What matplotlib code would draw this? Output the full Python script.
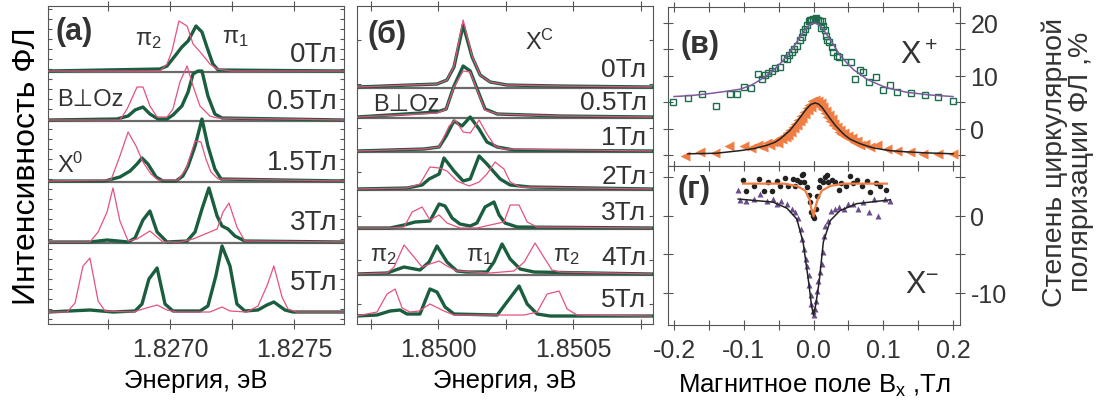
"""
plot.py
Magneto-PL spectra (a, b) and circular polarisation vs in-plane field (c, d)
"""

import matplotlib
matplotlib.use('Agg')
import matplotlib.pyplot as plt

plt.rcParams['font.family'] = ['Liberation Sans', 'DejaVu Sans']
plt.rcParams['mathtext.fontset'] = 'custom'
plt.rcParams['mathtext.rm'] = 'Liberation Sans'
plt.rcParams['mathtext.default'] = 'regular'
plt.rcParams['text.color'] = '#333333'
plt.rcParams['xtick.color'] = '#555555'
plt.rcParams['ytick.color'] = '#555555'
plt.rcParams['xtick.labelcolor'] = '#333333'
plt.rcParams['ytick.labelcolor'] = '#333333'

GREEN = '#1b5e3f'
PINK = '#e5527f'

# ---------------- panel (a): X0 spectra ----------------
a_fields = ['0Тл', '0.5Тл', '1.5Тл', '3Тл', '5Тл']

a_pink_E = [
    [1.82651, 1.826960, 1.826988, 1.827008, 1.827036, 1.827069, 1.827093, 1.827129, 1.827161, 1.827190, 1.82725, 1.82770],
    [1.82651, 1.826798, 1.826827, 1.826867, 1.826891, 1.826919, 1.826948, 1.826988, 1.827012, 1.827040, 1.827069, 1.827093,
     1.827121, 1.827161, 1.827190, 1.82770],
    [1.82651, 1.826762, 1.826798, 1.826831, 1.826863, 1.826891, 1.826923, 1.826952, 1.827032, 1.827065, 1.827101, 1.827125,
     1.827145, 1.827165, 1.827194, 1.82770],
    [1.82651, 1.826677, 1.826710, 1.826746, 1.826770, 1.826798, 1.826831, 1.826867, 1.826919, 1.826948, 1.826972, 1.827040,
     1.827093, 1.827161, 1.827190, 1.827214, 1.827238, 1.827270, 1.827302, 1.82770],
    [1.82651, 1.826585, 1.826617, 1.826649, 1.826677, 1.826710, 1.826738, 1.826851, 1.826891, 1.826948, 1.826988, 1.827028,
     1.827161, 1.827210, 1.827242, 1.827310, 1.827355, 1.827391, 1.827419, 1.827452, 1.827476, 1.827512, 1.82770],
]
a_pink_I = [
    [0, 0, 7, 20, 50, 45, 27, 17, 7, 2, 0, 0],
    [0, 0, 11, 33, 33, 14, 3, 3, 11, 38, 54, 34, 14, 4, 2, 0],
    [0, 1, 25, 49, 35, 19, 7, 1, 1, 12, 40, 39, 22, 9, 2, 0],
    [0, 0, 10, 30, 54, 21, 1, 3, 11, 5, 0, 0, 3, 10, 13, 30, 39, 15, 1, 0],
    [0, 0, 9, 46, 54, 11, 1, 0, 3, 7, 2, 0, 0, 5, 1, 0, 6, 26, 46, 15, 3, 0, 0],
]
a_green_E = [
    [1.82651, 1.826960, 1.826988, 1.827020, 1.827048, 1.827073, 1.827105, 1.827129, 1.827149, 1.827173, 1.827194, 1.82770],
    [1.82651, 1.826786, 1.826831, 1.826859, 1.826891, 1.826919, 1.826952, 1.826988, 1.827012, 1.827048, 1.827073, 1.827093,
     1.827113, 1.827129, 1.827153, 1.827181, 1.827210, 1.82770],
    [1.82651, 1.826738, 1.826798, 1.826839, 1.826867, 1.826887, 1.826911, 1.826944, 1.826972, 1.827024, 1.827052, 1.827073,
     1.827101, 1.827129, 1.827153, 1.827181, 1.827206, 1.82770],
    [1.82651, 1.826677, 1.826746, 1.826790, 1.826831, 1.826859, 1.826891, 1.826919, 1.826948, 1.826988, 1.827069, 1.827101,
     1.827129, 1.827157, 1.827190, 1.827210, 1.827234, 1.827262, 1.827302, 1.82770],
    [1.82651, 1.826677, 1.826770, 1.826859, 1.826887, 1.826915, 1.826948, 1.826980, 1.827012, 1.827121, 1.827153, 1.827185,
     1.827210, 1.827242, 1.827270, 1.827302, 1.827355, 1.827391, 1.827419, 1.827464, 1.827496, 1.82770],
]
a_green_I = [
    [0, 2, 5, 15, 24, 30, 45, 39, 24, 7, 1, 0],
    [0, 1, 4, 10, 13, 6, 1, 1, 5, 14, 28, 46, 49, 49, 24, 6, 2, 0],
    [0, 0, 4, 10, 17, 23, 17, 4, 0, 0, 5, 15, 35, 62, 35, 12, 2, 0],
    [0, 0, 2, 1, 0, 4, 22, 31, 10, 0, 1, 10, 33, 54, 26, 16, 13, 6, 1, 0],
    [0, 2, 0, 1, 8, 33, 44, 8, 1, 1, 6, 36, 66, 46, 8, 1, 2, 7, 10, 2, 0, 0],
]

# ---------------- panel (b): XC spectra ----------------
b_fields = ['0Тл', '0.5Тл', '1Тл', '2Тл', '3Тл', '4Тл', '5Тл']

b_pink_E = [
    [1.84970, 1.849996, 1.850033, 1.850059, 1.850093, 1.850126, 1.850156, 1.850193, 1.850256, 1.850452, 1.85079],
    [1.84970, 1.849996, 1.850030, 1.850059, 1.850093, 1.850119, 1.850152, 1.850174, 1.850219, 1.850452, 1.85079],
    [1.84970, 1.849948, 1.850004, 1.850041, 1.850063, 1.850093, 1.850119, 1.850152, 1.850181, 1.850211, 1.850244, 1.85079],
    [1.84970, 1.849885, 1.849933, 1.849970, 1.850004, 1.850033, 1.850070, 1.850115, 1.850152, 1.850181, 1.850211, 1.850244,
     1.850267, 1.850304, 1.85079],
    [1.84970, 1.849822, 1.849874, 1.849904, 1.849941, 1.849970, 1.850004, 1.850033, 1.850081, 1.850144, 1.850193, 1.850244,
     1.850267, 1.850300, 1.850330, 1.850367, 1.85079],
    [1.84970, 1.849811, 1.849837, 1.849874, 1.849911, 1.849941, 1.849970, 1.850004, 1.850033, 1.850070, 1.850193, 1.850281,
     1.850319, 1.850359, 1.850396, 1.850422, 1.850452, 1.85079],
    [1.84970, 1.849774, 1.849811, 1.849841, 1.849867, 1.849896, 1.849930, 1.849970, 1.850022, 1.850059, 1.850319, 1.850367,
     1.850404, 1.850448, 1.850478, 1.850515, 1.85079],
]
b_pink_I = [
    [0, 3, 7, 21, 67, 31, 12, 5, 2, 1, 0],
    [0, 4, 8, 30, 46, 45, 22, 7, 3, 1, 0],
    [0, 2, 4, 25, 31, 19, 18, 31, 17, 5, 2, 0],
    [0, 1, 5, 22, 21, 18, 8, 3, 7, 15, 27, 20, 7, 2, 0],
    [0, 0, 1, 16, 21, 8, 13, 5, 0, 0, 3, 6, 23, 23, 6, 1, 0],
    [0, 1, 7, 29, 17, 7, 10, 13, 8, 3, 1, 3, 12, 31, 15, 4, 2, 0],
    [0, 4, 22, 27, 8, 4, 5, 12, 5, 1, 1, 4, 22, 25, 7, 1, 0],
]
b_green_E = [
    [1.84970, 1.849996, 1.850033, 1.850059, 1.850093, 1.850126, 1.850156, 1.850193, 1.850256, 1.850452, 1.85079],
    [1.84970, 1.849996, 1.850030, 1.850059, 1.850093, 1.850119, 1.850152, 1.850174, 1.850219, 1.850452, 1.85079],
    [1.84970, 1.849948, 1.850004, 1.850030, 1.850059, 1.850089, 1.850119, 1.850152, 1.850181, 1.850219, 1.850281, 1.85079],
    [1.84970, 1.849885, 1.849941, 1.849967, 1.850004, 1.850022, 1.850059, 1.850093, 1.850119, 1.850152, 1.850181, 1.850207,
     1.850230, 1.850267, 1.850341, 1.85079],
    [1.84970, 1.849822, 1.849874, 1.849915, 1.849970, 1.850004, 1.850026, 1.850052, 1.850081, 1.850119, 1.850144, 1.850174,
     1.850207, 1.850226, 1.850248, 1.850293, 1.85079],
    [1.84970, 1.849811, 1.849874, 1.849933, 1.849967, 1.849996, 1.850033, 1.850070, 1.850107, 1.850181, 1.850207, 1.850237,
     1.850267, 1.850304, 1.850356, 1.85079],
    [1.84970, 1.849774, 1.849822, 1.849859, 1.849885, 1.849933, 1.849970, 1.849996, 1.850026, 1.850059, 1.850219, 1.850244,
     1.850300, 1.850330, 1.850367, 1.850415, 1.85079],
]
b_green_I = [
    [0, 3, 7, 20, 62, 30, 12, 5, 2, 1, 0],
    [0, 5, 8, 31, 51, 46, 23, 8, 3, 1, 0],
    [0, 2, 4, 15, 30, 25, 34, 22, 9, 4, 1, 0],
    [0, 1, 4, 10, 15, 31, 18, 8, 10, 33, 25, 17, 10, 4, 2, 0],
    [0, 0, 3, 6, 7, 24, 22, 10, 4, 2, 5, 21, 26, 13, 5, 1, 0],
    [0, 1, 7, 4, 12, 28, 12, 3, 2, 2, 12, 30, 15, 5, 2, 0],
    [0, 1, 5, 6, 2, 2, 27, 24, 9, 2, 1, 10, 30, 12, 2, 0, 0],
]

# ---------------- panel (c): X+ polarisation ----------------
c_sq_B = [-0.201, -0.180, -0.160, -0.140, -0.120, -0.110, -0.100, -0.090, -0.080, -0.074, -0.070, -0.065, -0.060,
          -0.055, -0.048, -0.042, -0.038, -0.035, -0.031, -0.028, -0.024, -0.020, -0.017, -0.015, -0.012, -0.010,
          -0.007, -0.005, -0.003, -0.001, 0.002, 0.004, 0.007, 0.009, 0.011, 0.012, 0.013, 0.016, 0.018, 0.020,
          0.022, 0.026, 0.028, 0.033, 0.037, 0.045, 0.053, 0.059, 0.066, 0.071, 0.080, 0.090, 0.100, 0.109,
          0.120, 0.139, 0.160, 0.179, 0.200]
c_sq_P = [5.0, 5.8, 6.6, 4.4, 6.6, 6.6, 7.9, 7.7, 10.4, 9.4, 10.2, 10.6, 11.0,
          11.4, 11.6, 13.3, 13.2, 14.0, 14.5, 15.1, 15.7, 16.7, 17.3, 18.2, 18.9, 19.6,
          20.4, 20.6, 20.5, 20.8, 20.8, 20.9, 20.6, 20.3, 19.0, 20.4, 19.5, 18.6, 17.6, 16.7,
          16.4, 15.4, 14.5, 13.8, 13.5, 12.7, 12.6, 9.4, 11.1, 10.7, 8.8, 9.7, 7.4, 8.3,
          6.9, 6.8, 6.4, 6.0, 5.3]
c_fit1_B = [-0.200, -0.175, -0.153, -0.130, -0.105, -0.090, -0.082, -0.070, -0.058, -0.048, -0.038, -0.030,
            -0.024, -0.017, -0.010, -0.004, 0.002, 0.008, 0.014, 0.020, 0.028, 0.038, 0.048, 0.058, 0.067,
            0.076, 0.086, 0.100, 0.110, 0.134, 0.167, 0.200]
c_fit1_P = [6.1, 6.3, 6.6, 7.0, 7.5, 8.2, 8.8, 9.8, 11.0, 12.3, 13.8, 15.2,
            16.4, 17.8, 19.1, 19.8, 20.0, 19.6, 18.8, 17.6, 16.0, 13.9, 12.4, 11.1, 10.3,
            9.4, 8.8, 8.0, 7.6, 6.9, 6.4, 6.1]
c_tri_B = [-0.184, -0.163, -0.141, -0.121, -0.100, -0.090, -0.079, -0.072, -0.067, -0.062, -0.058, -0.054,
           -0.051, -0.048, -0.045, -0.043, -0.040, -0.038, -0.036, -0.034, -0.032, -0.030, -0.028, -0.026,
           -0.024, -0.022, -0.020, -0.018, -0.016, -0.014, -0.012, -0.010, -0.008, -0.006, -0.004, -0.002,
           0.000, 0.002, 0.004, 0.006, 0.008, 0.010, 0.012, 0.014, 0.016, 0.018, 0.020, 0.022, 0.024, 0.026,
           0.028, 0.030, 0.032, 0.034, 0.036, 0.038, 0.040, 0.043, 0.046, 0.049, 0.052, 0.055, 0.058, 0.062,
           0.067, 0.074, 0.081, 0.091, 0.105, 0.119, 0.138, 0.157, 0.179, 0.200]
c_tri_P = [-5.2, -4.4, -4.5, -3.3, -3.3, -3.6, -3.1, -3.4, -2.6, -3.0, -2.5, -2.2,
           -2.6, -1.7, -2.0, -1.3, -1.6, -0.8, -1.1, -0.2, -0.6, 0.4, 0.1, 1.0,
           0.7, 1.7, 1.4, 2.5, 2.1, 3.2, 2.9, 3.9, 3.6, 4.5, 4.2, 5.2,
           4.8, 5.5, 4.9, 5.2, 4.4, 4.8, 3.7, 4.1, 3.0, 3.4, 2.2, 2.6, 1.4, 1.8,
           0.7, 1.0, 0.1, 0.4, -0.5, -0.2, -1.0, -0.7, -1.5, -1.3, -2.0, -1.8, -2.4, -2.2,
           -3.1, -2.9, -3.5, -3.1, -3.8, -4.1, -4.4, -4.7, -4.7, -4.7]
c_fit2_B = [-0.180, -0.140, -0.105, -0.085, -0.067, -0.055, -0.048, -0.040, -0.034, -0.026, -0.019, -0.010,
            -0.004, 0.002, 0.007, 0.012, 0.018, 0.024, 0.031, 0.038, 0.045, 0.052, 0.060, 0.067, 0.076,
            0.086, 0.100, 0.110, 0.130, 0.157, 0.200]
c_fit2_P = [-4.7, -4.6, -4.1, -3.7, -3.1, -2.5, -1.9, -1.0, -0.3, 1.0, 2.2, 3.8,
            4.6, 4.9, 4.7, 4.1, 3.0, 1.9, 0.7, -0.3, -1.2, -1.9, -2.4, -2.8, -3.2,
            -3.6, -3.9, -4.1, -4.3, -4.5, -4.7]

# ---------------- panel (d): X- polarisation ----------------
d_dot_B = [-0.101, -0.097, -0.086, -0.078, -0.071, -0.066, -0.059, -0.053, -0.048, -0.041, -0.036, -0.030,
           -0.027, -0.024, -0.020, -0.016, -0.015, -0.014, -0.010, -0.007, -0.005, -0.003, -0.001, 0.001,
           0.003, 0.005, 0.008, 0.009, 0.013, 0.016, 0.019, 0.021, 0.026, 0.031, 0.036, 0.040, 0.047,
           0.052, 0.057, 0.062, 0.069, 0.076, 0.081, 0.090, 0.095, 0.104]
d_dot_P = [4.7, 3.2, 3.9, 4.8, 3.2, 4.4, 3.2, 4.5, 3.9, 4.9, 3.9, 4.8,
           3.9, 4.7, 4.4, 5.3, 5.5, 4.4, 3.7, 2.7, 1.8, 0.5, 0.0, -0.2,
           0.9, 2.6, 3.7, 4.7, 4.4, 5.0, 5.3, 4.4, 4.7, 4.4, 3.4, 4.3, 3.9,
           5.2, 4.3, 4.7, 3.9, 4.5, 3.1, 4.3, 3.9, 3.4]
d_fit1_B = [-0.101, -0.043, -0.024, -0.012, -0.006, -0.003, 0.000, 0.002, 0.006, 0.012, 0.024, 0.043, 0.105]
d_fit1_P = [4.2, 4.2, 3.9, 3.3, 2.2, 0.9, -0.05, 0.9, 2.2, 3.3, 3.9, 4.2, 4.2]
d_tri_B = [-0.109, -0.105, -0.097, -0.086, -0.077, -0.067, -0.058, -0.052, -0.046, -0.038, -0.031, -0.027,
           -0.022, -0.018, -0.016, -0.013, -0.011, -0.010, -0.007, -0.006, -0.004, -0.003, -0.001, 0.000,
           0.002, 0.003, 0.005, 0.007, 0.009, 0.012, 0.013, 0.015, 0.017, 0.021, 0.025, 0.031, 0.036,
           0.043, 0.050, 0.057, 0.064, 0.071, 0.079, 0.086, 0.093, 0.102, 0.110]
d_tri_P = [3.4, 2.1, 2.0, 2.2, 2.9, 2.0, 2.2, 1.6, 2.0, 1.6, 0.9, 0.5,
           -0.2, -1.7, -3.0, -4.3, -5.6, -6.5, -7.7, -9.0, -10.3, -11.4, -12.3, -12.9,
           -12.1, -11.0, -9.7, -8.4, -7.3, -6.2, -4.7, -2.6, -1.3, -0.6, 0.6, 0.9, 1.1,
           0.9, 1.6, 1.6, 0.9, 1.8, 0.5, 2.2, 0.0, 2.2, 2.0]
d_fit2_B = [-0.108, -0.058, -0.038, -0.024, -0.015, -0.007, -0.003, 0.000, 0.003, 0.008, 0.014, 0.024,
            0.038, 0.062, 0.110]
d_fit2_P = [2.2, 1.8, 1.0, -0.4, -3.4, -8.6, -11.6, -12.9, -11.6, -8.6, -3.4, -0.6,
            0.7, 1.6, 2.1]

# layout: baseline of every spectrum, in the pixel-like units of the y axis
a_offsets = [253, 204, 143, 82, 12]
a_label_y = [0.849, 0.701, 0.509, 0.321, 0.132]
b_offsets = [237, 207, 173, 135, 96, 50, 8]
b_label_y = [0.802, 0.698, 0.588, 0.465, 0.352, 0.211, 0.079]

fig = plt.figure(figsize=(11.04, 4.10), dpi=100)
ax_a = fig.add_axes([0.0435, 0.2073, 0.2681, 0.7756])
ax_b = fig.add_axes([0.3234, 0.2073, 0.2681, 0.7756])
ax_c = fig.add_axes([0.6051, 0.5927, 0.2645, 0.3878])
ax_d = fig.add_axes([0.6051, 0.2049, 0.2645, 0.3878])


def draw_stack(ax, pink_E, pink_I, green_E, green_I, offsets, labels, label_y, fs):
    for k in range(len(offsets)):
        base = offsets[k]
        if base > 15:
            ax.axhline(base - 0.6, color='#6a6a6a', lw=1.6, zorder=1)
        ax.plot(green_E[k], [base + v for v in green_I[k]], color=GREEN, lw=2.4, zorder=3)
        ax.plot(pink_E[k], [base + v for v in pink_I[k]], color=PINK, lw=0.9, zorder=4)
        ax.text(0.978, label_y[k], labels[k], transform=ax.transAxes, ha='right', va='center', fontsize=fs)
    ax.set_ylim(0, 318)
    for s in ax.spines.values():
        s.set_color('#555555')


draw_stack(ax_a, a_pink_E, a_pink_I, a_green_E, a_green_I, a_offsets, a_fields, a_label_y, 20)
ax_a.set_xlim(1.826508, 1.827702)
ax_a.set_xticks([1.82675, 1.8270, 1.82725, 1.8275])
ax_a.set_xticklabels(['', '1.8270', '', '1.8275'])
ax_a.set_yticks(range(5, 318, 10))
ax_a.tick_params(axis='y', direction='in', left=True, right=True, labelleft=False, length=3)
ax_a.tick_params(axis='x', direction='inout', top=True, length=7, labelsize=18, pad=6)
ax_a.set_xlabel('Энергия, эВ', fontsize=18.5, labelpad=5)
ax_a.set_ylabel('Интенсивность ФЛ', fontsize=23, labelpad=4)
ax_a.text(0.024, 0.921, '(а)', transform=ax_a.transAxes, fontsize=22, fontweight='bold', va='center')
ax_a.text(0.338, 0.896, 'π$_2$', transform=ax_a.transAxes, fontsize=17, ha='center', va='center')
ax_a.text(0.632, 0.903, 'π$_1$', transform=ax_a.transAxes, fontsize=17, ha='center', va='center')
ax_a.text(0.030, 0.708, 'B⊥Oz', transform=ax_a.transAxes, fontsize=17, va='center')
ax_a.text(0.030, 0.503, 'X$^0$', transform=ax_a.transAxes, fontsize=17, va='center')

draw_stack(ax_b, b_pink_E, b_pink_I, b_green_E, b_green_I, b_offsets, b_fields, b_label_y, 19)
ax_b.set_xlim(1.849700, 1.850796)
ax_b.set_xticks([1.84975, 1.8500, 1.85025, 1.8505, 1.85075])
ax_b.set_xticklabels(['', '1.8500', '', '1.8505', ''])
ax_b.set_yticks(range(20, 318, 44))
ax_b.tick_params(axis='y', direction='in', left=True, right=True, labelleft=False, length=3)
ax_b.tick_params(axis='x', direction='inout', top=True, length=7, labelsize=18, pad=6)
ax_b.set_xlabel('Энергия, эВ', fontsize=18.5, labelpad=5)
ax_b.text(0.034, 0.912, '(б)', transform=ax_b.transAxes, fontsize=22, fontweight='bold', va='center')
ax_b.text(0.568, 0.890, 'X$^C$', transform=ax_b.transAxes, fontsize=17, va='center')
ax_b.text(0.054, 0.692, 'B⊥Oz', transform=ax_b.transAxes, fontsize=17, va='center')
ax_b.text(0.090, 0.217, 'π$_2$', transform=ax_b.transAxes, fontsize=17, ha='center', va='center')
ax_b.text(0.415, 0.217, 'π$_1$', transform=ax_b.transAxes, fontsize=17, ha='center', va='center')
ax_b.text(0.706, 0.217, 'π$_2$', transform=ax_b.transAxes, fontsize=17, ha='center', va='center')

# polarisation panels
ax_c.plot(c_sq_B, c_sq_P, 's', mfc='none', mec='#1f6b4d', ms=4.5, mew=1.0, zorder=2)
ax_c.plot(c_fit1_B, c_fit1_P, color='#7d5b9c', lw=1.1, zorder=3)
ax_c.plot(c_tri_B, c_tri_P, '<', color='#f07d43', ms=6.5, mec='none', zorder=2)
ax_c.plot(c_fit2_B, c_fit2_P, color='#222222', lw=1.1, zorder=3)
ax_c.set_ylim(-7.0, 23.0)
ax_c.set_yticks([-5, 0, 5, 10, 15, 20])
ax_c.set_yticklabels(['', '0', '', '10', '', '20'])
ax_c.text(0.041, 0.767, '(в)', transform=ax_c.transAxes, fontsize=22, fontweight='bold', va='center')
ax_c.text(0.795, 0.700, 'X$^+$', transform=ax_c.transAxes, fontsize=22, va='center')

ax_d.plot(d_tri_B, d_tri_P, '^', color='#6a4d8c', ms=5, mec='none', zorder=2)
ax_d.plot(d_fit2_B, d_fit2_P, color='#222222', lw=1.1, zorder=3)
ax_d.plot(d_dot_B, d_dot_P, 'o', color='#222222', ms=4, mec='none', zorder=2)
ax_d.plot(d_fit1_B, d_fit1_P, color='#f07d43', lw=1.6, zorder=3)
ax_d.set_ylim(-14.16, 6.49)
ax_d.set_yticks([-10, -5, 0, 5])
ax_d.set_yticklabels(['-10', '', '0', ''])
ax_d.text(0.034, 0.855, '(г)', transform=ax_d.transAxes, fontsize=22, fontweight='bold', va='center')
ax_d.text(0.810, 0.258, 'X$^{-}$', transform=ax_d.transAxes, fontsize=22, va='center')

for ax in (ax_c, ax_d):
    ax.set_xlim(-0.2086, 0.2100)
    ax.set_xticks([-0.2, -0.15, -0.1, -0.05, 0.0, 0.05, 0.1, 0.15, 0.2])
    ax.set_xticklabels(['-0.2', '', '-0.1', '', '0.0', '', '0.1', '', '0.2'])
    ax.tick_params(axis='y', direction='inout', left=True, right=True, labelleft=False, labelright=True,
                   length=7, labelsize=18, pad=4)
    ax.tick_params(axis='x', direction='inout', top=True, length=7, labelsize=18, pad=6)
    for s in ax.spines.values():
        s.set_color('#555555')
ax_c.tick_params(axis='x', labelbottom=False)
ax_d.set_xlabel('Магнитное поле B$_{x}$ ,Тл', fontsize=18.5, labelpad=7)

fig.text(0.9675, 0.605, 'Степень циркулярной\nполяризации ФЛ ,%', rotation=90, ha='center', va='center',
         fontsize=20.5, multialignment='center', linespacing=1.0)

fig.savefig('out.png', dpi=100)
